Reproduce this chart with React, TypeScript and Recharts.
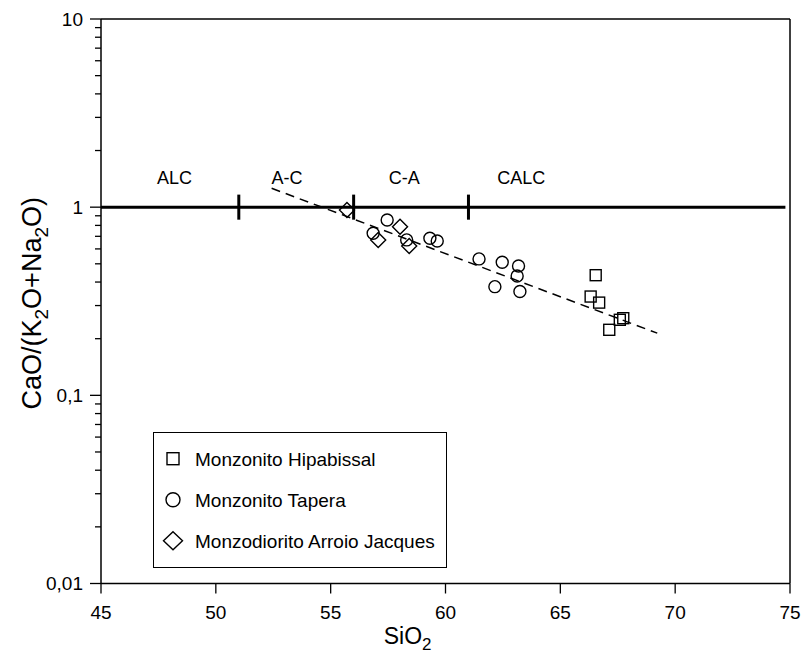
import React from 'react';
import { ScatterChart, Scatter, XAxis, YAxis, ReferenceLine, ReferenceDot, Legend, Label } from 'recharts';

const FONT = '"Liberation Sans", Arial, Helvetica, sans-serif';

// ---- data ----
const hipabissal = [
  { x: 66.54, y: 0.435 },
  { x: 66.32, y: 0.335 },
  { x: 66.69, y: 0.311 },
  { x: 67.74, y: 0.257 },
  { x: 67.59, y: 0.252 },
  { x: 67.13, y: 0.223 },
];
const tapera = [
  { x: 57.46, y: 0.855 },
  { x: 56.85, y: 0.727 },
  { x: 58.31, y: 0.67 },
  { x: 59.32, y: 0.684 },
  { x: 59.64, y: 0.661 },
  { x: 61.46, y: 0.531 },
  { x: 62.47, y: 0.51 },
  { x: 63.18, y: 0.487 },
  { x: 63.12, y: 0.431 },
  { x: 62.15, y: 0.378 },
  { x: 63.24, y: 0.356 },
];
const arroioJacques = [
  { x: 55.71, y: 0.966 },
  { x: 58.02, y: 0.788 },
  { x: 57.07, y: 0.67 },
  { x: 58.42, y: 0.622 },
];
const trendLine = [
  { x: 52.43, y: 1.26 },
  { x: 69.22, y: 0.214 },
];
const seriesNames = ['Monzonito Hipabissal', 'Monzonito Tapera', 'Monzodiorito Arroio Jacques'];
const xTicks = [45, 50, 55, 60, 65, 70, 75];
const yMajorTicks = [0.01, 0.1, 1, 10];
const yMajorLabels = ['0,01', '0,1', '1', '10'];
const yMinorTicks = [
  0.02, 0.03, 0.04, 0.05, 0.06, 0.07, 0.08, 0.09,
  0.2, 0.3, 0.4, 0.5, 0.6, 0.7, 0.8, 0.9,
  2, 3, 4, 5, 6, 7, 8, 9,
];
const yTicks = [...yMajorTicks, ...yMinorTicks].sort((a, b) => a - b);
const boundaryX = [51, 56, 61];
const fieldNames = ['ALC', 'A-C', 'C-A', 'CALC'];
const fieldCentersX = [48.2, 53.1, 58.2, 63.3];

const Y_TICK_SIZE = 11;
const Y_TICK_MARGIN = 7;

const YTick = (props: any) => {
  const { x, y, payload } = props;
  const v = payload.value;
  const idx = yMajorTicks.indexOf(v);
  const major = idx >= 0;
  const axisX = x + Y_TICK_SIZE + Y_TICK_MARGIN;
  return (
    <g>
      <line x1={axisX - (major ? 11 : 6)} x2={axisX} y1={y} y2={y} stroke="#000" strokeWidth={1.3} />
      {major && (
        <text x={x} y={y} dy="0.36em" textAnchor="end" fontSize={19} fill="#000" fontFamily={FONT}>
          {yMajorLabels[idx]}
        </text>
      )}
    </g>
  );
};

const SquareShape = (p: any) => (
  <rect x={p.cx - 5.5} y={p.cy - 5.5} width={11} height={11} fill="none" stroke="#000" strokeWidth={1.4} />
);
const CircleShape = (p: any) => (
  <circle cx={p.cx} cy={p.cy} r={6} fill="none" stroke="#000" strokeWidth={1.4} />
);
const DiamondShape = (p: any) => (
  <polygon
    points={`${p.cx},${p.cy - 7.5} ${p.cx + 7.5},${p.cy} ${p.cx},${p.cy + 7.5} ${p.cx - 7.5},${p.cy}`}
    fill="none"
    stroke="#000"
    strokeWidth={1.4}
  />
);

const XTitle = (props: any) => {
  const vb = props.viewBox;
  const cx = vb.x + vb.width * 0.445;
  const cy = vb.y + 60;
  return (
    <text x={cx} y={cy} textAnchor="middle" fontSize={23} fill="#000" fontFamily={FONT}>
      SiO<tspan dy={6} fontSize={17}>2</tspan>
    </text>
  );
};

const YTitle = (props: any) => {
  const vb = props.viewBox;
  const cx = vb.x + 41;
  const cy = vb.y + vb.height / 2 + 2;
  return (
    <text
      x={cx}
      y={cy}
      textAnchor="middle"
      fontSize={27}
      fill="#000"
      fontFamily={FONT}
      transform={`rotate(-90 ${cx} ${cy})`}
    >
      CaO/(K<tspan dy={7} fontSize={19}>2</tspan>
      <tspan dy={-7}>O+Na</tspan>
      <tspan dy={7} fontSize={19}>2</tspan>
      <tspan dy={-7}>O)</tspan>
    </text>
  );
};

const LegendBox = () => {
  const rows = [25.7, 66.7, 107.7];
  const sx = 19;
  return (
    <div
      style={{
        width: 294,
        height: 136,
        border: '1.5px solid #000',
        boxSizing: 'border-box',
        background: '#fff',
      }}
    >
      <svg width={291} height={133} style={{ display: 'block' }}>
        <rect x={sx - 6} y={rows[0] - 6} width={12} height={12} fill="none" stroke="#000" strokeWidth={1.4} />
        <circle cx={sx} cy={rows[1]} r={7} fill="none" stroke="#000" strokeWidth={1.4} />
        <polygon
          points={`${sx},${rows[2] - 9} ${sx + 9.5},${rows[2]} ${sx},${rows[2] + 9} ${sx - 9.5},${rows[2]}`}
          fill="none"
          stroke="#000"
          strokeWidth={1.4}
        />
        {seriesNames.map((n, i) => (
          <text key={n} x={41} y={rows[i]} dy="0.36em" fontSize={19} fill="#000" fontFamily={FONT}>
            {n}
          </text>
        ))}
      </svg>
    </div>
  );
};

export default function App() {
  return (
    <div
      style={{
        position: 'fixed',
        left: 0,
        top: 0,
        width: 803,
        height: 664,
        fontFamily: FONT,
        background: '#fff',
      }}
    >
      <ScatterChart
        width={803}
        height={664}
        margin={{ top: 19, right: 13, bottom: 0, left: 0 }}
        style={{ overflow: 'visible' }}
      >
        <XAxis
          type="number"
          dataKey="x"
          domain={[45, 75]}
          ticks={xTicks}
          interval={0}
          height={80.5}
          tickSize={10}
          tickMargin={12}
          axisLine={{ stroke: '#000', strokeWidth: 1.5 }}
          tickLine={{ stroke: '#000', strokeWidth: 1.3 }}
          tick={{ fontSize: 19, fill: '#000', fontFamily: FONT }}
          allowDataOverflow
        >
          <Label content={<XTitle />} />
        </XAxis>
        <YAxis
          type="number"
          dataKey="y"
          scale="log"
          domain={[0.01, 10]}
          ticks={yTicks}
          interval={0}
          width={101}
          tickSize={Y_TICK_SIZE}
          tickMargin={Y_TICK_MARGIN}
          tickLine={false}
          axisLine={{ stroke: '#000', strokeWidth: 1.5 }}
          tick={<YTick />}
          allowDataOverflow
        >
          <Label content={<YTitle />} />
        </YAxis>

        <ReferenceLine y={10} stroke="#000" strokeWidth={1.5} />
        <ReferenceLine x={75} stroke="#000" strokeWidth={1.5} />
        <ReferenceLine
          segment={[
            { x: 45, y: 1 },
            { x: 74.8, y: 1 },
          ]}
          stroke="#000"
          strokeWidth={3}
        />
        {boundaryX.map((b) => (
          <ReferenceLine
            key={b}
            segment={[
              { x: b, y: 0.858 },
              { x: b, y: 1.166 },
            ]}
            stroke="#000"
            strokeWidth={3}
          />
        ))}
        {fieldNames.map((n, i) => (
          <ReferenceDot
            key={n}
            x={fieldCentersX[i]}
            y={1.43}
            r={0}
            fill="none"
            stroke="none"
            label={{ value: n, position: 'center', fontSize: 18, fill: '#000', fontFamily: FONT }}
          />
        ))}
        <ReferenceLine
          segment={trendLine}
          stroke="#000"
          strokeWidth={1.5}
          strokeDasharray="9 6"
        />

        <Scatter name={seriesNames[0]} data={hipabissal} shape={SquareShape} isAnimationActive={false} />
        <Scatter name={seriesNames[1]} data={tapera} shape={CircleShape} isAnimationActive={false} />
        <Scatter name={seriesNames[2]} data={arroioJacques} shape={DiamondShape} isAnimationActive={false} />

        <Legend
          layout="vertical"
          align="center"
          verticalAlign="middle"
          wrapperStyle={{ left: 153, top: 432, width: 294, height: 136 }}
          content={<LegendBox />}
        />
      </ScatterChart>
    </div>
  );
}
